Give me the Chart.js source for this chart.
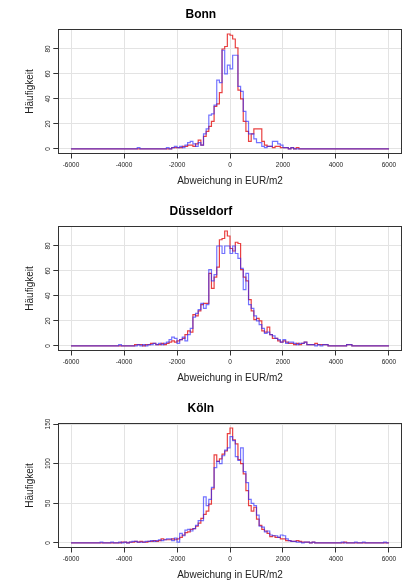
<!DOCTYPE html>
<html>
<head>
<meta charset="utf-8">
<script src="https://cdn.jsdelivr.net/npm/chart.js@4"></script>
<style>
html, body { margin: 0; padding: 0; background: #fff; }
.panel { position: absolute; left: 0; width: 408px; height: 190px; }
</style>
</head>
<body>
<div class="panel" style="top:0px"><canvas id="c-bonn" width="408" height="190"></canvas></div>
<div class="panel" style="top:197px"><canvas id="c-dus" width="408" height="190"></canvas></div>
<div class="panel" style="top:394px"><canvas id="c-koeln" width="408" height="190"></canvas></div>
<script>
// Histogramm: Klassen von -6000 bis 6000, Breite 100 (120 Klassen)
const binStart = -6000;
const binWidth = 100;
const xTicks = [-6000, -4000, -2000, 0, 2000, 4000, 6000];

const bonnBlau = [
  0,0,0,0,0,0,0,0,0,0,0,0,0,0,0,0,0,0,0,0,
  0,0,0,0,0,1,0,0,0,0,0,0,0,0,0,0,1,0,1,2,
  1,2,1,3,5,6,4,2,5,3,12,16,27,28,35,55,53,79,60,67,
  64,75,75,50,46,30,22,12,12,8,5,5,2,1,2,2,6,6,4,3,
  1,1,0,1,0,0,0,0,0,0,0,0,0,0,0,0,0,0,0,0,
  0,0,0,0,0,0,0,0,0,0,0,0,0,0,0,0,0,0,0,0
];
const bonnRot = [
  0,0,0,0,0,0,0,0,0,0,0,0,0,0,0,0,0,0,0,0,
  0,0,0,0,0,0,0,0,0,0,0,0,0,0,0,0,0,0,1,1,
  1,1,2,2,3,3,2,4,7,3,10,14,18,22,34,36,45,80,82,92,
  91,88,81,47,40,22,14,6,12,16,16,16,6,3,2,2,1,2,2,1,
  1,1,0,1,0,1,0,0,0,0,0,0,0,0,0,0,0,0,0,0,
  0,0,0,0,0,0,0,0,0,0,0,0,0,0,0,0,0,0,0,0
];
const dusBlau = [
  0,0,0,0,0,0,0,0,0,0,0,0,0,0,0,0,0,0,1,0,
  0,0,0,0,0,1,0,1,0,1,1,2,1,2,1,2,3,5,7,6,
  2,5,7,4,9,14,23,26,29,34,30,33,61,52,57,80,80,74,80,80,
  74,80,74,70,62,45,58,33,30,24,20,17,14,10,11,9,8,6,5,3,
  5,2,3,3,2,1,2,2,3,1,1,1,0,1,0,1,1,0,0,0,
  0,0,0,0,1,1,0,0,0,0,0,0,0,0,0,0,0,0,0,0
];
const dusRot = [
  0,0,0,0,0,0,0,0,0,0,0,0,0,0,0,0,0,0,0,0,
  0,0,0,0,1,1,1,0,1,1,2,2,1,1,2,1,2,3,4,3,
  4,5,6,9,12,11,25,24,28,33,34,34,58,46,55,63,85,86,92,88,
  78,76,83,82,61,55,52,37,28,21,22,20,12,11,15,9,6,6,4,3,
  4,3,2,2,1,2,1,2,3,1,1,1,2,1,1,1,1,0,0,0,
  0,0,0,0,1,1,0,0,0,0,0,0,0,0,0,0,0,0,0,0
];
const koelnBlau = [
  0,0,0,0,0,0,0,0,0,0,0,1,0,0,0,1,0,0,1,0,
  1,0,1,2,2,1,1,1,2,2,3,2,3,4,3,4,5,5,3,6,
  1,12,9,16,17,15,18,22,28,28,58,47,55,70,95,103,100,110,117,120,
  134,129,109,104,120,90,76,55,50,47,35,21,20,14,15,10,9,9,7,10,
  9,5,3,2,2,1,1,0,1,1,0,1,0,0,0,0,0,0,0,0,
  0,0,1,0,0,0,0,1,0,0,1,0,0,0,0,0,0,0,1,0
];
const koelnRot = [
  0,0,0,0,0,0,0,0,0,0,0,0,0,0,0,0,0,0,0,1,
  1,0,1,1,2,1,2,1,1,2,2,3,2,3,5,4,4,4,5,4,
  5,7,10,13,14,17,18,21,25,31,36,40,49,68,111,103,106,112,116,138,
  145,130,125,105,100,87,66,47,40,45,30,22,17,15,12,8,9,7,7,5,
  5,3,3,2,2,3,2,1,1,1,0,1,0,0,0,0,0,0,0,0,
  0,0,0,1,0,0,0,0,0,0,0,0,0,0,0,0,0,0,0,0
];

const yTicksBonn  = [0, 20, 40, 60, 80];
const yTicksDus   = [0, 20, 40, 60, 80];
const yTicksKoeln = [0, 50, 100, 150];

const FONT = '"Liberation Sans", Arial, Helvetica, sans-serif';

// Treppenkurve: jeder Wert gilt von seiner linken Klassengrenze bis zur nächsten
function treppe(werte) {
  const pts = werte.map((c, i) => ({ x: binStart + i * binWidth, y: c }));
  pts.push({ x: binStart + werte.length * binWidth, y: werte[werte.length - 1] });
  return pts;
}

// Rahmen um den Plot + gedrehte y-Beschriftung wie in R
const rahmenPlugin = {
  id: 'rahmen',
  afterDraw(chart) {
    const { ctx, chartArea: a, scales: { y } } = chart;
    ctx.save();
    ctx.strokeStyle = '#333';
    ctx.lineWidth = 1;
    ctx.strokeRect(Math.round(a.left) + 0.5, Math.round(a.top) + 0.5,
                   Math.round(a.right - a.left), Math.round(a.bottom - a.top));
    ctx.fillStyle = '#222';
    ctx.font = '6.5px ' + FONT;
    ctx.textAlign = 'center';
    ctx.textBaseline = 'middle';
    y.ticks.forEach(t => {
      ctx.save();
      ctx.translate(a.left - 10.5, y.getPixelForValue(t.value));
      ctx.rotate(-Math.PI / 2);
      ctx.fillText(String(t.value), 0, 0);
      ctx.restore();
    });
    ctx.restore();
  }
};

function zeichnePanel(id, titel, blau, rot, yTicks) {
  const maxWert = Math.max(...blau, ...rot);
  new Chart(document.getElementById(id), {
    type: 'line',
    data: {
      datasets: [
        { data: treppe(blau), borderColor: 'rgba(40,40,255,0.65)', borderWidth: 1.2, stepped: true, pointRadius: 0, fill: false },
        { data: treppe(rot),  borderColor: 'rgba(225,0,0,0.75)',   borderWidth: 1.2, stepped: true, pointRadius: 0, fill: false }
      ]
    },
    options: {
      responsive: false,
      animation: false,
      layout: { padding: { left: 0, right: 6.3, top: 0, bottom: 0 } },
      plugins: {
        legend: { display: false },
        tooltip: { enabled: false },
        title: {
          display: true,
          text: titel,
          color: '#000',
          font: { family: FONT, size: 12, weight: 'bold', lineHeight: 1.2 },
          padding: { top: 7, bottom: 8 }
        }
      },
      scales: {
        x: {
          type: 'linear',
          min: -6480,
          max: 6480,
          afterBuildTicks: s => { s.ticks = xTicks.map(v => ({ value: v })); },
          afterFit: s => { s.height = 36.5; },
          ticks: {
            autoSkip: false,
            maxRotation: 0,
            padding: 3,
            color: '#222',
            font: { family: FONT, size: 6.5 },
            callback: v => String(v)
          },
          grid: { color: '#e3e3e3', lineWidth: 1, tickLength: 5, tickColor: '#333', drawTicks: true },
          border: { display: false },
          title: {
            display: true,
            text: 'Abweichung in EUR/m2',
            color: '#222',
            font: { family: FONT, size: 10, lineHeight: 1.2 },
            padding: { top: 0, bottom: 3 }
          }
        },
        y: {
          type: 'linear',
          min: -0.04 * maxWert,
          max: 1.04 * maxWert,
          afterBuildTicks: s => { s.ticks = yTicks.map(v => ({ value: v })); },
          afterFit: s => { s.width = 58.3; },
          ticks: { display: false },
          grid: { color: '#e3e3e3', lineWidth: 1, tickLength: 5, tickColor: '#333', drawTicks: true },
          border: { display: false },
          title: {
            display: true,
            text: 'Häufigkeit',
            color: '#222',
            font: { family: FONT, size: 10, lineHeight: 1.2 },
            padding: { top: 24, bottom: 0 }
          }
        }
      }
    },
    plugins: [rahmenPlugin]
  });
}

zeichnePanel('c-bonn',  'Bonn',       bonnBlau,  bonnRot,  yTicksBonn);
zeichnePanel('c-dus',   'Düsseldorf', dusBlau,   dusRot,   yTicksDus);
zeichnePanel('c-koeln', 'Köln',       koelnBlau, koelnRot, yTicksKoeln);
</script>
</body>
</html>
